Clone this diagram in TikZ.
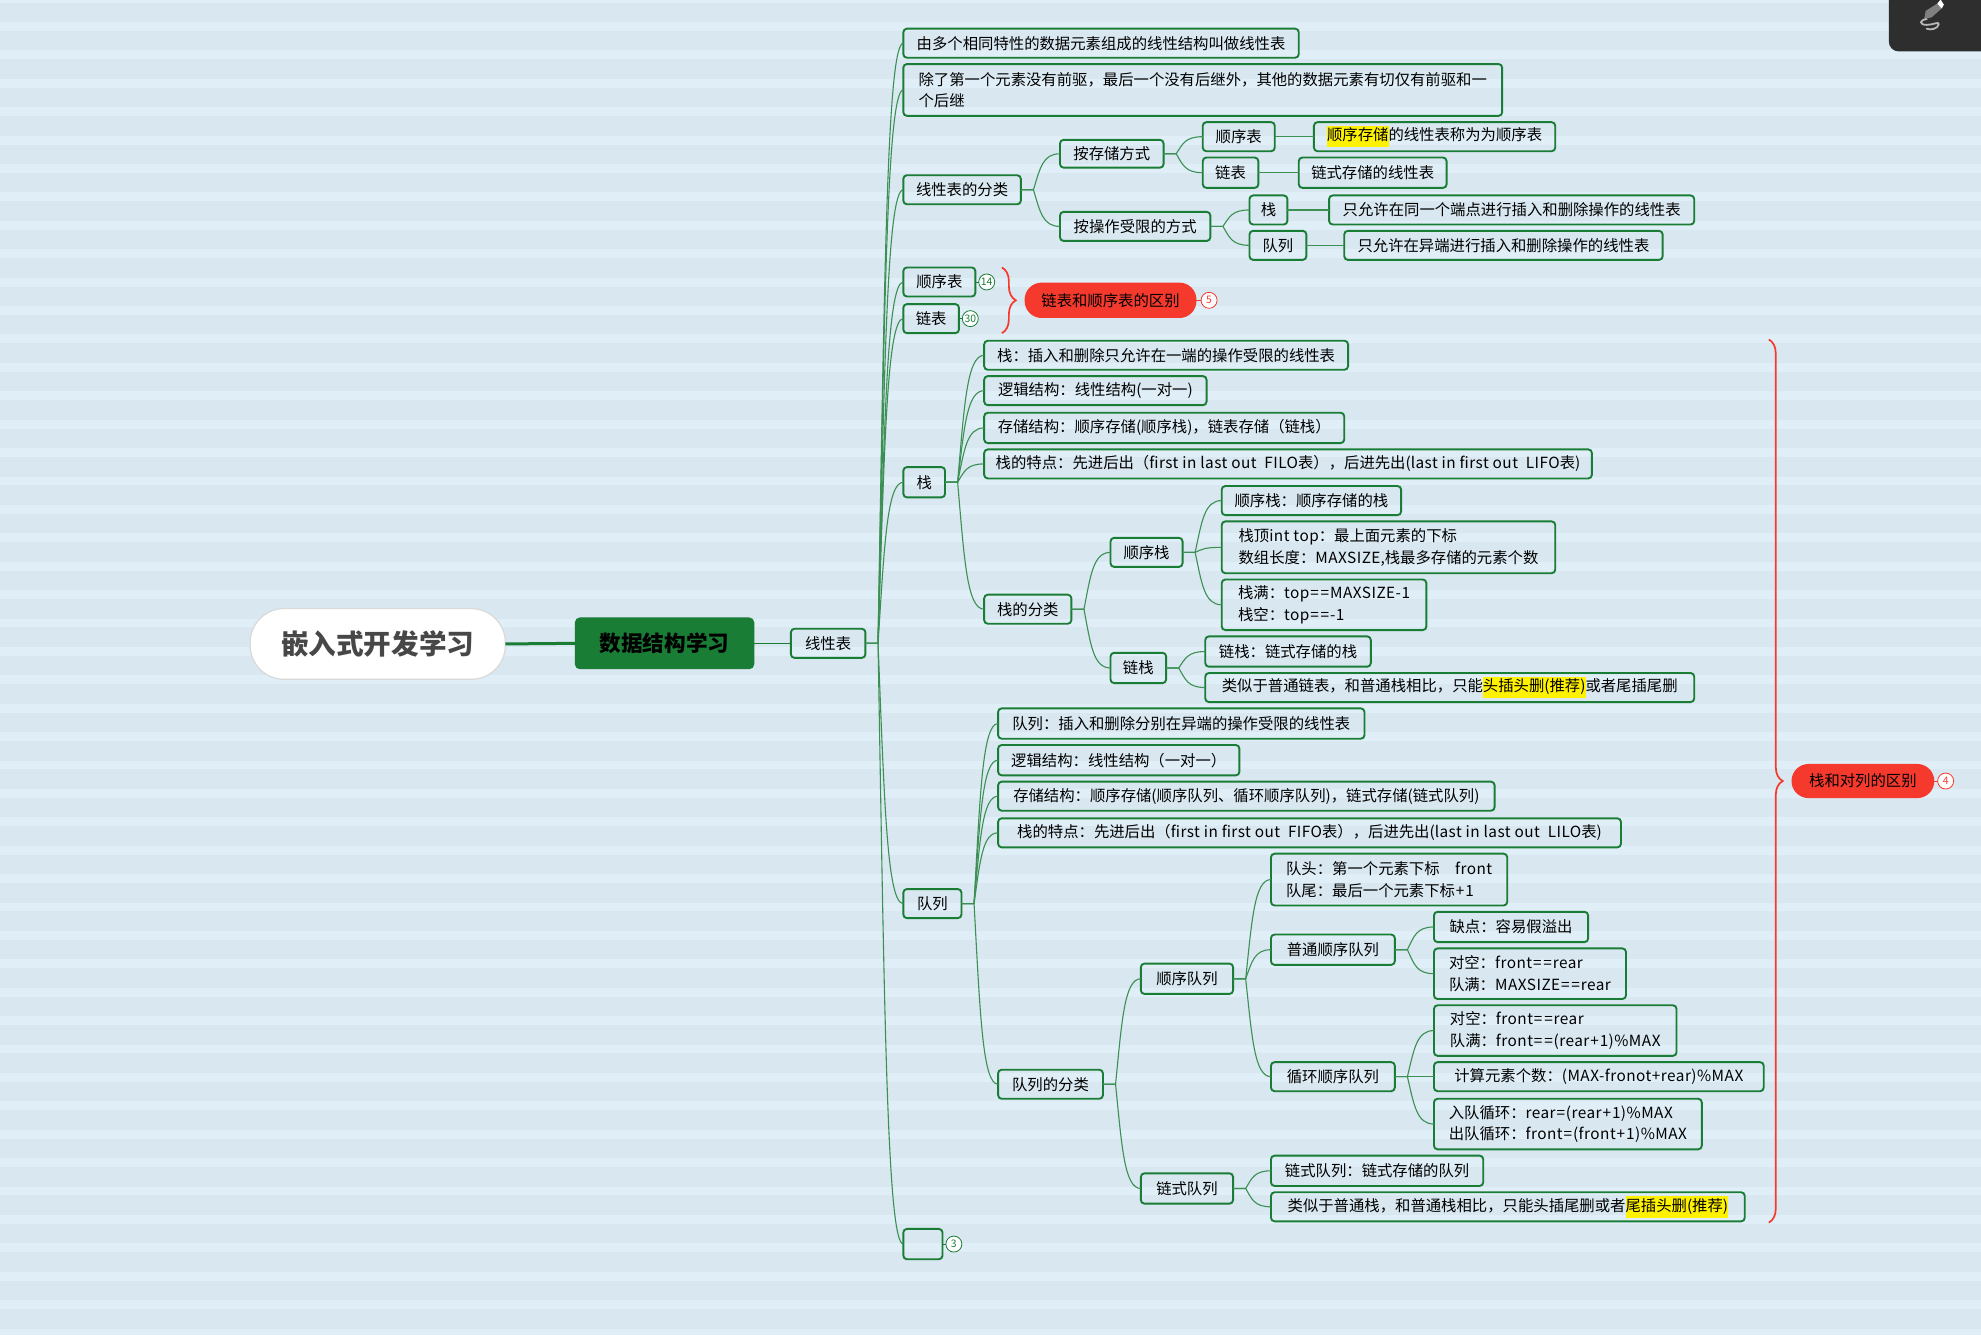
\documentclass[tikz,border=0pt]{standalone}
\usepackage{fontspec}
\usetikzlibrary{calc,decorations.pathreplacing}
\setmainfont{Noto Sans CJK SC}
\newfontfamily\latinfont[LetterSpace=3]{Noto Sans CJK SC}
\definecolor{bgbase}{HTML}{D8E7F0}
\definecolor{bgband}{HTML}{E0EEF7}
\definecolor{topicgreen}{HTML}{1A7D36}
\definecolor{markred}{HTML}{F53A2D}
\definecolor{barcolor}{HTML}{2E2E2E}
\setlength{\fboxsep}{0pt}
\newcommand{\marked}[1]{\colorbox{yellow}{\strut #1}}
\newcommand{\lat}[1]{{\latinfont #1}}
\newcommand{\gap}[1]{\kern.45pt#1\kern.45pt}
\tikzset{
    sz/.style 2 args={minimum width=#1*0.6317pt, minimum height=#2*0.6317pt},
    topicbox/.style={draw=topicgreen, line width=0.95pt, rounded corners=1.8pt, inner sep=0pt, outer sep=0pt, align=left, font=\fontsize{7.68}{10.7}\selectfont},
    mainbox/.style={fill=topicgreen, rounded corners=2.5pt, inner sep=0pt, outer sep=0pt, font=\fontsize{10.8}{13}\selectfont\bfseries},
    rootbox/.style={fill=white, draw=black!15, line width=0.6pt, rounded corners=17pt, inner sep=0pt, outer sep=0pt, text=black!72, font=\fontsize{13.8}{16}\selectfont\bfseries},
    redpill/.style={fill=markred, rounded corners=8.5pt, inner sep=0pt, outer sep=0pt, font=\fontsize{7.68}{10.7}\selectfont},
    greenbadge/.style={circle, draw=topicgreen, fill=white, line width=0.4pt, minimum size=8pt, inner sep=0pt, outer sep=0pt, text=topicgreen, font=\fontsize{5.2}{6}\selectfont},
    redbadge/.style={circle, draw=markred, fill=white, line width=0.4pt, minimum size=8pt, inner sep=0pt, outer sep=0pt, text=markred, font=\fontsize{5.2}{6}\selectfont},
    treeline/.style={draw=topicgreen!85!white, line width=0.55pt, to path={
        let \p1=(\tikztostart), \p2=(\tikztotarget) in
        -- ({\x1+6.3pt},\y1)
        .. controls ({\x1+6.3pt+0.25*(\x2-\x1-6.3pt)},{\y1+0.6*(\y2-\y1)}) and ({\x1+6.3pt+0.35*(\x2-\x1-6.3pt)},\y2) .. (\x2,\y2)}},
    redbrace/.style={draw=markred, line width=0.85pt, decorate, decoration={brace, amplitude=7pt, aspect=0.5}}
}

\begin{document}
\begin{tikzpicture}[x=0.6317pt,y=-0.6317pt]
        \useasboundingbox (0,-0.7) rectangle (1568,1055.3);
        \fill[bgbase] (0,-1) rectangle (1568,1056);
        \foreach \k in {0,...,47}
            \fill[bgband] (0,{22.48*\k-5.7}) rectangle ++(1568,7);

        % left part
        \node[rootbox,sz={202}{56}] (root) at (299,509) {嵌入式开发学习};
        \node[mainbox,sz={142}{41}] (study) at (526,508.5) {数据结构学习};
        \node[topicbox,sz={59}{23}] (linear) at (655.5,508.5) {线性表};

        % first level
        \node[topicbox,sz={313}{23}] (fact1) at (871.5,33.5) {由多个相同特性的数据元素组成的线性结构叫做线性表};
        \node[topicbox,sz={474}{41}] (fact2) at (952,70.5) {除了第一个元素没有前驱，最后一个没有后继外，其他的数据元素有切仅有前驱和一\\个后继};
        \node[topicbox,sz={93}{23}] (kinds) at (761.5,149.5) {线性表的分类};
        \node[topicbox,sz={57}{23}] (seqlist) at (743.5,222.5) {顺序表};
        \node[topicbox,sz={44}{23}] (linklist) at (737,251.5) {链表};
        \node[topicbox,sz={33}{24}] (stack) at (731.5,381) {栈};
        \node[topicbox,sz={46}{23}] (queue) at (738,714.5) {队列};
        \node[topicbox,sz={31}{24}] (blank) at (730.5,984) {};

        % kinds of list
        \node[topicbox,sz={82}{22}] (bystore) at (880,121) {按存储方式};
        \node[topicbox,sz={119}{23}] (byop) at (898.5,178.5) {按操作受限的方式};
        \node[topicbox,sz={57}{23}] (seqkind) at (980.5,107.5) {顺序表};
        \node[topicbox,sz={44}{24}] (linkkind) at (974,136) {链表};
        \node[topicbox,sz={30}{23}] (stackkind) at (1004,165.5) {栈};
        \node[topicbox,sz={45}{23}] (queuekind) at (1011.5,193.5) {队列};
        \node[topicbox,sz={191}{23}] (seqtext) at (1135.5,107.5) {\marked{顺序存储}的线性表称为为顺序表};
        \node[topicbox,sz={117}{24}] (linktext) at (1086.5,136) {链式存储的线性表};
        \node[topicbox,sz={289}{23}] (stacktext) at (1196.5,165.5) {只允许在同一个端点进行插入和删除操作的线性表};
        \node[topicbox,sz={252}{23}] (queuetext) at (1190,193.5) {只允许在异端进行插入和删除操作的线性表};

        % marks
        \node[greenbadge] (badgeseq) at (781,222.5) {14};
        \node[greenbadge] (badgelink) at (768,251.5) {30};
        \node[redpill,sz={136}{28}] (listdiff) at (879,237) {链表和顺序表的区别};
        \node[redbadge] (badgediff) at (957,237) {5};
        \node[greenbadge] (badgeblank) at (755,984) {3};
        \node[redpill,sz={113}{27}] (stackdiff) at (1474.5,617.5) {栈和对列的区别};
        \node[redbadge] (badgestack) at (1540,617.5) {4};
        \coordinate (bracetopa) at (793,211);
        \coordinate (bracebota) at (793,263);
        \coordinate (bracetopb) at (1400,268);
        \coordinate (bracebotb) at (1400,967);

        % stack
        \node[topicbox,sz={288}{23}] (stack1) at (923,280.5) {栈：插入和删除只允许在一端的操作受限的线性表};
        \node[topicbox,sz={176}{23}] (stack2) at (867,308.5) {逻辑结构：线性结构(一对一)};
        \node[topicbox,sz={285}{24}] (stack3) at (921.5,338) {存储结构：顺序存储(顺序栈)，链表存储（链栈）};
        \node[topicbox,sz={481}{23}] (stack4) at (1019.5,366.5) {栈的特点：先进后出（\lat{first in last out\ \ FILO}表），后进先出(\lat{last in first out\ \ LIFO}表)};
        \node[topicbox,sz={69}{23}] (stackkinds) at (813.5,481.5) {栈的分类};
        \node[topicbox,sz={57}{23}] (seqstack) at (907.5,436.5) {顺序栈};
        \node[topicbox,sz={44}{24}] (linkstack) at (901,528) {链栈};
        \node[topicbox,sz={142}{23}] (seqstack1) at (1038,395.5) {顺序栈：顺序存储的栈};
        \node[topicbox,sz={264}{41}] (seqstack2) at (1099,432.5) {栈顶\lat{int top}：最上面元素的下标\\数组长度：\lat{MAXSIZE},栈最多存储的元素个数};
        \node[topicbox,sz={162}{40}] (seqstack3) at (1048,478) {栈满：\lat{top\gap{=}\gap{=}MAXSIZE-1}\\栈空：\lat{top\gap{=}\gap{=}-1}};
        \node[topicbox,sz={131}{24}] (linkstack1) at (1019.5,515) {链栈：链式存储的栈};
        \node[topicbox,sz={387}{23}] (linkstack2) at (1147.5,543.5) {类似于普通链表，和普通栈相比，只能\marked{头插头删(推荐)}或者尾插尾删};

        % queue
        \node[topicbox,sz={290}{24}] (queue1) at (935,572) {队列：插入和删除分别在异端的操作受限的线性表};
        \node[topicbox,sz={191}{24}] (queue2) at (885.5,601) {逻辑结构：线性结构（一对一）};
        \node[topicbox,sz={393}{23}] (queue3) at (986.5,629.5) {存储结构：顺序存储(顺序队列、循环顺序队列)，链式存储(链式队列)};
        \node[topicbox,sz={493}{23}] (queue4) at (1036.5,658.5) {栈的特点：先进后出（\lat{first in first out\ \ FIFO}表），后进先出(\lat{last in last out\ \ LILO}表)};
        \node[topicbox,sz={83}{23}] (queuekinds) at (831.5,857.5) {队列的分类};
        \node[topicbox,sz={73}{24}] (seqqueue) at (939.5,774) {顺序队列};
        \node[topicbox,sz={73}{24}] (linkqueue) at (939.5,940) {链式队列};
        \node[topicbox,sz={187}{41}] (seqqueue1) at (1099.5,695.5) {队头：第一个元素下标\quad \lat{front}\\队尾：最后一个元素下标\lat{\gap{+}1}};
        \node[topicbox,sz={98}{24}] (plainqueue) at (1055,751) {普通顺序队列};
        \node[topicbox,sz={98}{23}] (ringqueue) at (1055,851.5) {循环顺序队列};
        \node[topicbox,sz={122}{24}] (plain1) at (1196,733) {缺点：容易假溢出};
        \node[topicbox,sz={152}{40}] (plain2) at (1211,770) {对空：\lat{front\gap{=}\gap{=}rear}\\队满：\lat{MAXSIZE\gap{=}\gap{=}rear}};
        \node[topicbox,sz={192}{40}] (ring1) at (1231,815) {对空：\lat{front\gap{=}\gap{=}rear}\\队满：\lat{front\gap{=}\gap{=}(rear\gap{+}1)\%MAX}};
        \node[topicbox,sz={261}{23}] (ring2) at (1265.5,851.5) {计算元素个数：\lat{(MAX-fronot+rear)\%MAX}};
        \node[topicbox,sz={212}{40}] (ring3) at (1241,889) {入队循环：\lat{rear\gap{=}(rear\gap{+}1)\%MAX}\\出队循环：\lat{front\gap{=}(front\gap{+}1)\%MAX}};
        \node[topicbox,sz={168}{24}] (linkqueue1) at (1090,926) {链式队列：链式存储的队列};
        \node[topicbox,sz={375}{23}] (linkqueue2) at (1193.5,954.5) {类似于普通栈，和普通栈相比，只能头插尾删或者\marked{尾插头删(推荐)}};

        \draw[topicgreen, line width=1.5pt] (root.east) -- (study.west);
        \draw[topicgreen, line width=0.7pt] (study.east) -- (linear.west);
        \draw[redbrace] (bracetopa) -- (bracebota);
        \draw[redbrace] (bracetopb) -- (bracebotb);

        \begin{scope}[every edge/.style={treeline}]
            \path [-] (linear.east) edge (fact1.west);
            \path [-] (linear.east) edge (fact2.west);
            \path [-] (linear.east) edge (kinds.west);
            \path [-] (linear.east) edge (seqlist.west);
            \path [-] (linear.east) edge (linklist.west);
            \path [-] (linear.east) edge (stack.west);
            \path [-] (linear.east) edge (queue.west);
            \path [-] (linear.east) edge (blank.west);

            \path [-] (kinds.east) edge (bystore.west);
            \path [-] (kinds.east) edge (byop.west);
            \path [-] (bystore.east) edge (seqkind.west);
            \path [-] (bystore.east) edge (linkkind.west);
            \path [-] (byop.east) edge (stackkind.west);
            \path [-] (byop.east) edge (queuekind.west);
            \path [-] (seqkind.east) edge (seqtext.west);
            \path [-] (linkkind.east) edge (linktext.west);
            \path [-] (stackkind.east) edge (stacktext.west);
            \path [-] (queuekind.east) edge (queuetext.west);

            \path [-] (stack.east) edge (stack1.west);
            \path [-] (stack.east) edge (stack2.west);
            \path [-] (stack.east) edge (stack3.west);
            \path [-] (stack.east) edge (stack4.west);
            \path [-] (stack.east) edge (stackkinds.west);
            \path [-] (stackkinds.east) edge (seqstack.west);
            \path [-] (stackkinds.east) edge (linkstack.west);
            \path [-] (seqstack.east) edge (seqstack1.west);
            \path [-] (seqstack.east) edge (seqstack2.west);
            \path [-] (seqstack.east) edge (seqstack3.west);
            \path [-] (linkstack.east) edge (linkstack1.west);
            \path [-] (linkstack.east) edge (linkstack2.west);

            \path [-] (queue.east) edge (queue1.west);
            \path [-] (queue.east) edge (queue2.west);
            \path [-] (queue.east) edge (queue3.west);
            \path [-] (queue.east) edge (queue4.west);
            \path [-] (queue.east) edge (queuekinds.west);
            \path [-] (queuekinds.east) edge (seqqueue.west);
            \path [-] (queuekinds.east) edge (linkqueue.west);
            \path [-] (seqqueue.east) edge (seqqueue1.west);
            \path [-] (seqqueue.east) edge (plainqueue.west);
            \path [-] (seqqueue.east) edge (ringqueue.west);
            \path [-] (plainqueue.east) edge (plain1.west);
            \path [-] (plainqueue.east) edge (plain2.west);
            \path [-] (ringqueue.east) edge (ring1.west);
            \path [-] (ringqueue.east) edge (ring2.west);
            \path [-] (ringqueue.east) edge (ring3.west);
            \path [-] (linkqueue.east) edge (linkqueue1.west);
            \path [-] (linkqueue.east) edge (linkqueue2.west);
        \end{scope}

        \draw[topicgreen, line width=0.4pt] (seqlist.east) -- (badgeseq.west);
        \draw[topicgreen, line width=0.4pt] (linklist.east) -- (badgelink.west);
        \draw[topicgreen, line width=0.4pt] (blank.east) -- (badgeblank.west);
        \draw[markred, line width=0.4pt] (listdiff.east) -- (badgediff.west);
        \draw[markred, line width=0.4pt] (stackdiff.east) -- (badgestack.west);

        % dark bar in the corner
        \fill[barcolor, rounded corners=5pt] (1495,-10) rectangle (1585,40);
        \fill[black!50] (1523,14.5) -- (1524.2,7.9) -- (1533.4,2.1) -- (1537.6,5.3) -- (1529,13) -- cycle;
        \fill[white] (1533.4,2.1) -- (1536,-1) -- (1538.6,3) -- (1536.8,6) -- cycle;
        \draw[black!28, line width=0.9pt, line cap=round] (1525,14.5) .. controls (1519,15) and (1519,19) .. (1525,19) .. controls (1530,19) and (1535,16) .. (1534.5,18.5) .. controls (1534,22) and (1528,23.5) .. (1525,22);
    \end{tikzpicture}
\end{document}
